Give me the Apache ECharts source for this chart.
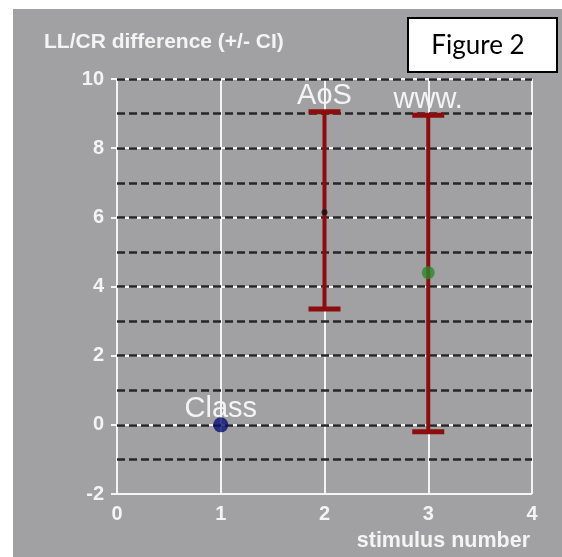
<!DOCTYPE html>
<html>
<head>
<meta charset="utf-8">
<script src="https://cdn.jsdelivr.net/npm/echarts@6/dist/echarts.min.js"></script>
<style>
html,body{margin:0;padding:0;background:#fff;}
#chart{position:absolute;left:13px;top:9px;width:549px;height:548px;background:#a1a1a4;}
</style>
</head>
<body>
<div id="chart"></div>
<script>
// data
const stimulus = ['Class', 'AoS', 'www.'];
const stimulusX = [1, 2, 3];
const meanDiff = [0, 6.15, 4.4];
const ciLow = [null, 3.35, -0.2];
const ciHigh = [null, 9.05, 8.95];
const xTicks = [0, 1, 2, 3, 4];
const yTicks = [-2, 0, 2, 4, 6, 8, 10];
const dashLevels = [10, 9, 8, 7, 6, 5, 4, 3, 2, 1, 0, -1];

const dotColor = ['#081272', '#111111', '#2a8a2a'];
const dotSize = [15, 6, 13];
const barRed = '#8c0d0d';
const white = '#f4f4f4';
const font = '"Liberation Sans", Arial, sans-serif';

const chart = echarts.init(document.getElementById('chart'));

const option = {
    animation: false,
    title: {
        text: 'LL/CR difference (+/- CI)',
        left: 31, top: 23, padding: 0,
        textStyle: {color: white, fontSize: 21, fontWeight: 'bold', fontFamily: font}
    },
    grid: {left: 104, right: 30, top: 70, bottom: 63},
    xAxis: {
        type: 'value',
        min: xTicks[0], max: xTicks[xTicks.length - 1],
        interval: xTicks[1] - xTicks[0],
        axisLine: {lineStyle: {color: white, width: 2}},
        axisTick: {show: true, length: 5, lineStyle: {color: white, width: 2}},
        axisLabel: {color: white, fontSize: 20, fontWeight: 'bold', fontFamily: font, margin: 10},
        splitLine: {show: true, lineStyle: {color: white, width: 2}}
    },
    yAxis: {
        type: 'value',
        min: yTicks[0], max: yTicks[yTicks.length - 1],
        interval: yTicks[1] - yTicks[0],
        axisLine: {show: true, lineStyle: {color: white, width: 2}},
        axisTick: {show: true, length: 6, lineStyle: {color: white, width: 2}},
        axisLabel: {color: white, fontSize: 20, fontWeight: 'bold', fontFamily: font, margin: 13},
        splitLine: {show: true, lineStyle: {color: white, width: 2}}
    },
    graphic: [
        {
            type: 'rect', z: 100,
            shape: {x: 395, y: 9, width: 149, height: 54},
            style: {fill: '#fff', stroke: '#000', lineWidth: 2}
        },
        {
            type: 'text', z: 101, x: 465, y: 37,
            style: {text: 'Figure 2', fill: '#000', font: '26px Lato, "Open Sans", sans-serif', align: 'center', verticalAlign: 'middle'}
        },
        {
            type: 'text', z: 101, x: 517, y: 532,
            style: {text: 'stimulus number', fill: white, font: 'bold 21.5px ' + font, align: 'right', verticalAlign: 'middle'}
        }
    ],
    series: [
        {
            // dashed reference lines at every unit
            type: 'line',
            data: [],
            markLine: {
                silent: true,
                symbol: 'none',
                label: {show: false},
                lineStyle: {color: '#262626', width: 2.5, type: [8, 4]},
                data: dashLevels.map(v => ({yAxis: v}))
            }
        },
        {
            type: 'custom',
            z: 10,
            data: stimulus.map((s, i) => [stimulusX[i], meanDiff[i], ciLow[i], ciHigh[i]]),
            encode: {x: 0, y: 1},
            renderItem: function (params, api) {
                const i = params.dataIndex;
                const x = api.value(0);
                const lo = api.value(2);
                const hi = api.value(3);
                const children = [];
                let topY;
                if (!isNaN(lo) && !isNaN(hi)) {
                    const t = api.coord([x, hi]);
                    const b = api.coord([x, lo]);
                    const hw = 16;
                    children.push({type: 'line', shape: {x1: t[0], y1: t[1], x2: b[0], y2: b[1]},
                        style: {stroke: barRed, lineWidth: 4}});
                    children.push({type: 'line', shape: {x1: t[0] - hw, y1: t[1], x2: t[0] + hw, y2: t[1]},
                        style: {stroke: barRed, lineWidth: 5}});
                    children.push({type: 'line', shape: {x1: b[0] - hw, y1: b[1], x2: b[0] + hw, y2: b[1]},
                        style: {stroke: barRed, lineWidth: 5}});
                    topY = t[1];
                } else {
                    topY = api.coord([x, api.value(1)])[1];
                }
                const p = api.coord([x, api.value(1)]);
                children.push({type: 'text', x: p[0], y: topY - 1,
                    style: {text: stimulus[i], fill: white, font: '29px ' + font, align: 'center', verticalAlign: 'bottom'}});
                return {type: 'group', children: children};
            }
        },
        {
            type: 'scatter',
            z: 11,
            data: stimulus.map((s, i) => ({
                value: [stimulusX[i], meanDiff[i]],
                symbolSize: dotSize[i],
                itemStyle: {color: dotColor[i]}
            }))
        }
    ]
};
chart.setOption(option);
</script>
</body>
</html>
